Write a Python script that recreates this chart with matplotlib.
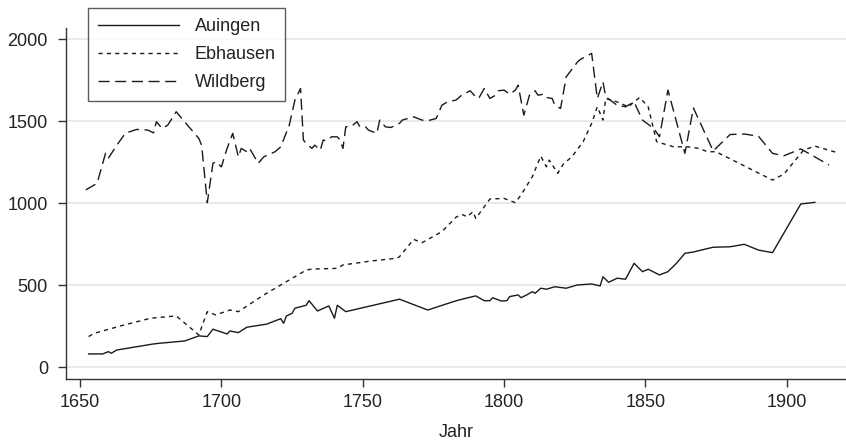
import matplotlib
matplotlib.use("Agg")
import matplotlib.pyplot as plt

plt.rcParams["font.family"] = ["Liberation Sans", "DejaVu Sans"]

# Einwohnerzahlen
auingen_jahr = [1653, 1658, 1660, 1661, 1663, 1676, 1678, 1687, 1692, 1695, 1697, 1702,
                1703, 1706, 1709, 1716, 1721, 1722, 1723, 1725, 1726, 1730, 1731, 1734,
                1738, 1740, 1741, 1744, 1763, 1773, 1781, 1784, 1788, 1790, 1793, 1795,
                1796, 1799, 1801, 1802, 1805, 1806, 1808, 1810, 1811, 1813, 1815, 1818,
                1822, 1826, 1831, 1834, 1835, 1837, 1840, 1843, 1846, 1849, 1851, 1855,
                1858, 1861, 1864, 1867, 1871, 1874, 1880, 1885, 1890, 1895, 1905, 1910]
auingen = [81, 81, 95, 85, 105, 142, 146, 160, 191, 187, 232, 203,
           221, 211, 244, 263, 296, 268, 313, 329, 360, 378, 406, 343,
           374, 299, 378, 339, 415, 349, 394, 410, 427, 435, 406, 406,
           424, 404, 406, 431, 441, 424, 441, 461, 451, 482, 476, 491,
           482, 502, 508, 496, 552, 518, 543, 537, 634, 583, 598, 563,
           583, 634, 695, 703, 720, 732, 735, 750, 715, 699, 996, 1006]

ebhausen_jahr = [1653, 1655, 1665, 1675, 1684, 1692, 1695, 1698, 1703, 1706, 1715, 1730,
                 1732, 1741, 1743, 1753, 1762, 1763, 1768, 1771, 1778, 1783, 1785, 1787,
                 1789, 1790, 1795, 1800, 1804, 1806, 1810, 1813, 1815, 1816, 1819, 1821,
                 1824, 1828, 1831, 1833, 1835, 1836, 1840, 1844, 1846, 1848, 1851, 1854,
                 1860, 1865, 1869, 1872, 1875, 1895, 1899, 1906, 1910, 1918]
ebhausen = [187, 207, 255, 299, 313, 197, 339, 319, 349, 339, 441, 593,
            599, 603, 624, 648, 665, 674, 780, 760, 827, 915, 933, 918,
            949, 908, 1026, 1030, 1004, 1051, 1162, 1288, 1223, 1264, 1183, 1240,
            1284, 1376, 1488, 1589, 1508, 1640, 1619, 1589, 1619, 1646, 1589, 1376,
            1345, 1345, 1335, 1315, 1315, 1142, 1178, 1325, 1349, 1309]

wildberg_jahr = [1652, 1656, 1659, 1660, 1663, 1666, 1670, 1674, 1676, 1677, 1679, 1681,
                 1684, 1685, 1692, 1693, 1695, 1697, 1698, 1700, 1702, 1704, 1705, 1706,
                 1707, 1709, 1710, 1713, 1715, 1719, 1721, 1724, 1726, 1728, 1729, 1730,
                 1732, 1733, 1735, 1736, 1737, 1739, 1741, 1742, 1743, 1744, 1746, 1748,
                 1749, 1751, 1752, 1755, 1756, 1758, 1760, 1763, 1764, 1768, 1771, 1773,
                 1776, 1778, 1780, 1783, 1785, 1788, 1790, 1791, 1793, 1795, 1797, 1798,
                 1800, 1802, 1804, 1805, 1807, 1809, 1811, 1812, 1814, 1815, 1817, 1818,
                 1820, 1822, 1826, 1827, 1831, 1833, 1835, 1836, 1840, 1843, 1846, 1849,
                 1853, 1855, 1858, 1864, 1867, 1874, 1880, 1885, 1890, 1895, 1899, 1905,
                 1915]
wildberg = [1082, 1122, 1306, 1276, 1355, 1428, 1451, 1447, 1430, 1498, 1457, 1477,
            1559, 1538, 1396, 1355, 1004, 1244, 1254, 1223, 1335, 1427, 1355, 1284,
            1335, 1315, 1335, 1244, 1284, 1315, 1345, 1477, 1630, 1701, 1386, 1366,
            1335, 1355, 1325, 1386, 1382, 1406, 1406, 1386, 1335, 1467, 1471, 1498,
            1467, 1467, 1447, 1427, 1508, 1467, 1463, 1488, 1508, 1528, 1508, 1504,
            1518, 1599, 1619, 1630, 1660, 1687, 1650, 1640, 1701, 1640, 1660, 1687,
            1691, 1666, 1691, 1721, 1538, 1660, 1687, 1660, 1666, 1646, 1640, 1599,
            1579, 1772, 1863, 1878, 1915, 1640, 1741, 1650, 1599, 1589, 1619, 1508,
            1457, 1406, 1691, 1305, 1582, 1320, 1420, 1423, 1410, 1305, 1290, 1332,
            1234]

x_ticks = [1650, 1700, 1750, 1800, 1850, 1900]
y_ticks = [0, 500, 1000, 1500, 2000]

fig = plt.figure(figsize=(8.46, 4.40), dpi=100)
ax = fig.add_axes([0.078, 0.139, 0.922, 0.797])

ink = "#1a1a1a"
ax.plot(auingen_jahr, auingen, color=ink, lw=1.0, ls="-", label="Auingen")
ax.plot(ebhausen_jahr, ebhausen, color=ink, lw=1.0, ls=(0, (3, 3)), label="Ebhausen")
ax.plot(wildberg_jahr, wildberg, color=ink, lw=1.0, ls=(0, (8, 4)), label="Wildberg")

ax.set_xlim(1645, 1921)
ax.set_ylim(-71, 2069)
ax.set_xticks(x_ticks)
ax.set_yticks(y_ticks)
ax.yaxis.grid(True, color="#e6e6e6", lw=1.2)
ax.set_axisbelow(True)

for side in ["top", "right"]:
    ax.spines[side].set_visible(False)
for side in ["left", "bottom"]:
    ax.spines[side].set_color("#333333")
    ax.spines[side].set_linewidth(1.0)
ax.tick_params(direction="out", length=6, width=1.0, color="#333333",
               labelsize=13, labelcolor="#222222", pad=5)
ax.tick_params(axis="y", pad=7)

ax.set_xlabel("Jahr", fontsize=13, color="#222222", labelpad=9)

leg = ax.legend(loc="upper left", bbox_to_anchor=(0.104, 0.982),
                bbox_transform=fig.transFigure, fontsize=13, frameon=True,
                fancybox=False, handlelength=4.5, handletextpad=0.85,
                labelspacing=0.62, borderpad=0.55, borderaxespad=0)
leg.get_frame().set_edgecolor("#333333")
leg.get_frame().set_linewidth(1.0)
for t in leg.get_texts():
    t.set_color("#222222")

fig.savefig("out.png", dpi=100)
